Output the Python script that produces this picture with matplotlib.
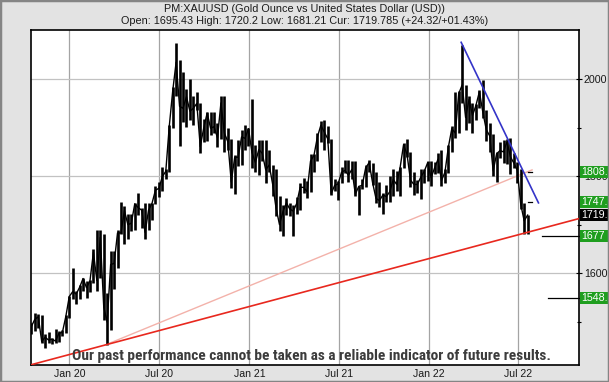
import matplotlib
matplotlib.use('Agg')
import matplotlib.pyplot as plt
import matplotlib.dates as mdates
import matplotlib.transforms as mtransforms
from matplotlib.patches import Rectangle
from matplotlib import font_manager
import numpy as np
import pandas as pd

# weekly gold bars, week starting Monday 2019-10-14 .. 2022-07-18
first_week = '2019-10-14'

high_2019 = [1498, 1518, 1516, 1514, 1475, 1478, 1466, 1485, 1480, 1482, 1514, 1553]
low_2019 = [1475, 1480, 1486, 1457, 1445, 1456, 1453, 1457, 1458, 1471, 1477, 1508]
close_2019 = [1490, 1505, 1510, 1459, 1468, 1462, 1464, 1460, 1476, 1478, 1511, 1552]

high_2020 = [1611, 1563, 1575, 1591, 1583, 1585, 1649, 1689, 1690, 1680, 1560, 1645, 1645,
             1690, 1747, 1738, 1723, 1722, 1745, 1765, 1735, 1745, 1745, 1745, 1779, 1789,
             1818, 1815, 1906, 1984, 2075, 2040, 2015, 1980, 2000, 1966, 1973, 1950, 1917,
             1933, 1933, 1933, 1910, 1965, 1965, 1900, 1876, 1843, 1875, 1896, 1906, 1900]
low_2020 = [1546, 1536, 1546, 1563, 1548, 1561, 1580, 1563, 1590, 1504, 1451, 1482, 1568,
            1610, 1680, 1660, 1670, 1688, 1690, 1720, 1693, 1670, 1690, 1710, 1742, 1758,
            1770, 1795, 1808, 1900, 1965, 1863, 1912, 1902, 1916, 1906, 1936, 1848, 1871,
            1873, 1885, 1890, 1860, 1876, 1850, 1853, 1775, 1764, 1820, 1823, 1855, 1863]
close_2020 = [1562, 1557, 1571, 1589, 1570, 1584, 1643, 1585, 1674, 1530, 1499, 1618, 1620,
              1683, 1683, 1729, 1700, 1703, 1743, 1735, 1730, 1684, 1730, 1744, 1771, 1775,
              1799, 1810, 1902, 1975, 2035, 1944, 1940, 1964, 1934, 1940, 1950, 1861, 1899,
              1930, 1899, 1902, 1879, 1951, 1889, 1871, 1788, 1839, 1839, 1881, 1878, 1898]

high_2021 = [1959, 1864, 1875, 1875, 1875, 1855, 1824, 1815, 1760, 1740, 1755, 1745, 1740,
             1758, 1785, 1797, 1790, 1845, 1845, 1890, 1913, 1916, 1903, 1877, 1795, 1790,
             1818, 1834, 1833, 1832, 1832, 1780, 1795, 1823, 1834, 1828, 1809, 1788, 1765,
             1782, 1800, 1814, 1810, 1818, 1868, 1877, 1849, 1808, 1793, 1815, 1815, 1831]
low_2021 = [1817, 1808, 1803, 1831, 1785, 1809, 1760, 1717, 1687, 1676, 1719, 1718, 1677,
            1721, 1730, 1765, 1756, 1768, 1808, 1832, 1870, 1855, 1869, 1761, 1770, 1750,
            1785, 1806, 1789, 1794, 1759, 1720, 1773, 1778, 1808, 1782, 1745, 1737, 1721,
            1746, 1746, 1760, 1770, 1759, 1816, 1840, 1778, 1762, 1766, 1753, 1785, 1790]
close_2021 = [1849, 1828, 1855, 1847, 1813, 1823, 1784, 1734, 1700, 1727, 1745, 1732, 1728,
              1744, 1777, 1777, 1768, 1831, 1843, 1881, 1905, 1891, 1877, 1764, 1781, 1784,
              1808, 1812, 1802, 1814, 1763, 1779, 1781, 1817, 1828, 1787, 1754, 1750, 1761,
              1758, 1768, 1793, 1783, 1818, 1865, 1845, 1792, 1783, 1783, 1798, 1810, 1828]

high_2022 = [1832, 1830, 1848, 1853, 1815, 1865, 1903, 1974, 1975, 2070, 1989, 1966, 1950,
             1949, 1978, 1998, 1936, 1910, 1886, 1850, 1870, 1874, 1877, 1879, 1847, 1830,
             1814, 1745, 1720]
low_2022 = [1780, 1804, 1806, 1780, 1785, 1807, 1850, 1878, 1890, 1951, 1895, 1910, 1890,
            1915, 1940, 1920, 1872, 1850, 1800, 1787, 1838, 1828, 1826, 1805, 1816, 1785,
            1732, 1680, 1681]
close_2022 = [1797, 1817, 1835, 1791, 1808, 1860, 1898, 1889, 1970, 1988, 1921, 1958, 1925,
              1946, 1974, 1932, 1896, 1883, 1811, 1846, 1853, 1850, 1871, 1840, 1827, 1812,
              1742, 1708, 1719.785]

# trend line anchors (date, price)
red_dates = ['2020-03-14', '2022-07-15']
red_prices = [1452, 1683]
pink_dates = ['2020-03-14', '2022-07-29']
pink_prices = [1452, 1813]
blue_dates = ['2022-03-07', '2022-08-11']
blue_prices = [2076, 1745]

# target levels on the right
level_values = [1808.2, 1747.4, 1719.785, 1677.3, 1548.1]
level_labels = ['1808.', '1747.', '1719.', '1677', '1548.']
level_colors = ['#1f9e1f', '#1f9e1f', '#000000', '#1f9e1f', '#1f9e1f']
level_line_start = [None, None, None, '2022-08-18', '2022-08-31']
dash_levels = [1808.2, 1747.4]
dash_dates = ['2022-07-21', '2022-07-29']

x_tick_dates = ['2020-01-01', '2020-07-01', '2021-01-01', '2021-07-01', '2022-01-01', '2022-07-01']
x_tick_labels = ['Jan 20', 'Jul 20', 'Jan 21', 'Jul 21', 'Jan 22', 'Jul 22']
y_ticks = [1600, 1800, 2000]
y_minor = [1500, 1700, 1900]

title_1 = 'PM:XAUUSD (Gold Ounce vs United States Dollar (USD))'
title_2 = 'Open: 1695.43 High: 1720.2 Low: 1681.21 Cur: 1719.785 (+24.32/+01.43%)'
disclaimer = 'Our past performance cannot be taken as a reliable indicator of future results.'

names = {f.name for f in font_manager.fontManager.ttflist}
base_font = 'Liberation Sans' if 'Liberation Sans' in names else 'DejaVu Sans'
plt.rcParams['font.family'] = base_font

# a narrow bold face for the disclaimer, if one is installed
narrow_prop = None
for f in font_manager.fontManager.ttflist:
    wide = ('Narrow' in f.name or 'Condensed' in f.name or 'condensed' in str(f.stretch)
            or 'Narrow' in f.fname or 'Condensed' in f.fname)
    if wide and (f.weight in ('bold', 700) or 'Bold' in f.fname) and 'Oblique' not in f.fname \
            and 'Italic' not in f.fname:
        narrow_prop = font_manager.FontProperties(fname=f.fname)
        if 'Liberation' in f.fname:
            break
if narrow_prop is None:
    narrow_prop = font_manager.FontProperties(family=base_font, weight='bold')

high = np.array(high_2019 + high_2020 + high_2021 + high_2022)
low = np.array(low_2019 + low_2020 + low_2021 + low_2022)
close = np.array(close_2019 + close_2020 + close_2021 + close_2022)
weeks = pd.date_range(first_week, periods=len(high), freq='7D') + pd.Timedelta(days=2)
wx = mdates.date2num(weeks)

W, H = 609, 382
fig = plt.figure(figsize=(W / 100, H / 100), dpi=100, facecolor='#e3e3e3')
ax = fig.add_axes([30.5 / W, (H - 365) / H, 548.5 / W, 335 / H])
ax.set_facecolor('white')

x0 = mdates.date2num(pd.Timestamp('2019-10-14 05:00'))
x1 = mdates.date2num(pd.Timestamp('2022-11-01 08:00'))
ax.set_xlim(x0, x1)
ax.set_ylim(1410.7, 2101.4)

# grid
for d in x_tick_dates:
    ax.axvline(mdates.date2num(pd.Timestamp(d)), color='#a4a4a4', lw=0.9, zorder=1)
for v in y_ticks:
    ax.axhline(v, color='#c2c2c2', lw=0.9, zorder=1)

# price
ax.vlines(wx, low, high, color='black', lw=1.9, zorder=3)
ax.plot(wx, close, color='black', lw=1.0, zorder=3)


def trend(dates, prices, extend):
    d = mdates.date2num(pd.to_datetime(dates))
    if extend:
        k = (prices[1] - prices[0]) / (d[1] - d[0])
        xs = np.array([x0, x1])
        return xs, prices[0] + k * (xs - d[0])
    return d, prices


xs, ys = trend(red_dates, red_prices, True)
ax.plot(xs, ys, color='#e8281e', lw=1.2, zorder=4)
xs, ys = trend(pink_dates, pink_prices, False)
ax.plot(xs, ys, color='#f3b2aa', lw=1.0, zorder=2)
xs, ys = trend(blue_dates, blue_prices, False)
ax.plot(xs, ys, color='#3434c8', lw=1.2, zorder=4)

# level markers
for v in dash_levels:
    ax.plot(mdates.date2num(pd.to_datetime(dash_dates)), [v, v], color='black', lw=0.9, zorder=4)
for v, s in zip(level_values, level_line_start):
    if s is not None:
        ax.plot([mdates.date2num(pd.Timestamp(s)), x1], [v, v], color='black', lw=0.9,
                zorder=4, clip_on=False)

# axes
ax.set_xticks(mdates.date2num(pd.to_datetime(x_tick_dates)))
ax.set_xticklabels(x_tick_labels)
ax.tick_params(axis='x', length=0, pad=3, labelsize=7.6, labelcolor='#1a1a1a')
ax.yaxis.tick_right()
ax.set_yticks(y_ticks)
ax.set_yticks(y_minor, minor=True)
ax.set_yticklabels([str(v) for v in y_ticks])
ax.tick_params(axis='y', which='both', direction='inout', length=4, width=0.8, pad=1.5,
               labelsize=7.7, labelcolor='#1a1a1a')
ax.tick_params(axis='y', which='minor', length=3)
for sp in ax.spines.values():
    sp.set_linewidth(1.2)
    sp.set_color('black')

# right-hand level boxes
blend = mtransforms.blended_transform_factory(ax.transAxes, ax.transData)
box_h = 12 / 0.485
for v, lab, c in zip(level_values, level_labels, level_colors):
    ax.add_patch(Rectangle((1.0015, v - box_h / 2), 0.07, box_h, transform=blend,
                           facecolor=c, edgecolor='none', clip_on=False, zorder=6))
    ax.text(1.004, v, lab, transform=blend, ha='left', va='center', color='white',
            fontsize=7.7, zorder=7, clip_on=False)

# disclaimer
t = ax.text(0.5114, 0.027, disclaimer, transform=ax.transAxes, ha='center', va='center',
            fontproperties=narrow_prop, color='#3c3c3c', zorder=8)
t.set_fontsize(10.5)
fig.canvas.draw()
bw = t.get_window_extent().width
t.set_fontsize(10.5 * 481 / bw)

# titles
fig.text(0.5, 1 - 8.5 / H, title_1, ha='center', va='center', fontsize=7.8, color='#1a1a1a')
fig.text(0.5, 1 - 21.5 / H, title_2, ha='center', va='center', fontsize=7.8, color='#1a1a1a')

# window frame
fig.patches.append(Rectangle((0, 0), 1, 1, transform=fig.transFigure, fill=False,
                             edgecolor='#858585', lw=2.5))

fig.savefig('out.png', dpi=100, facecolor=fig.get_facecolor())
